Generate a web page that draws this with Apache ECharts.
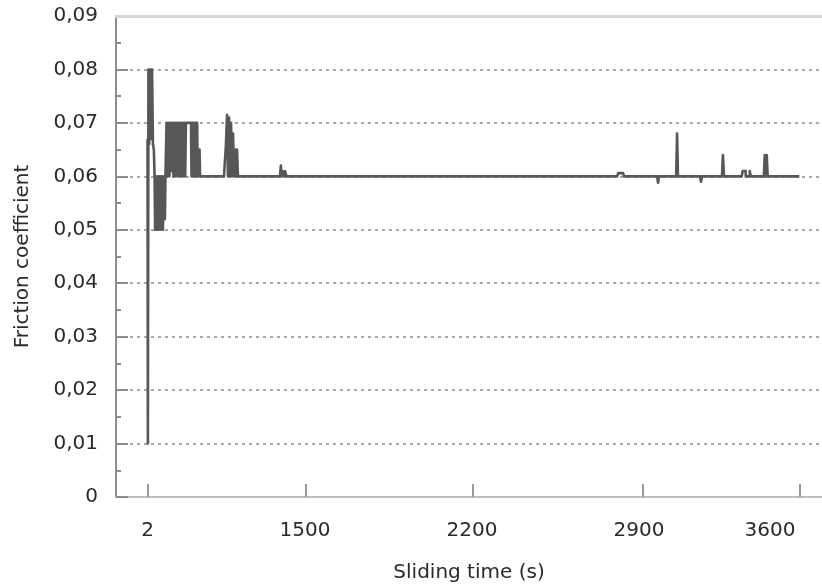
<!DOCTYPE html>
<html>
<head>
<meta charset="utf-8">
<script src="https://cdn.jsdelivr.net/npm/echarts@6/dist/echarts.min.js"></script>
<style>html,body{margin:0;padding:0;background:#fff;}#c{width:822px;height:588px;}</style>
</head>
<body>
<div id="c"></div>
<script>
// Sliding time (s) of each sample
const timeS = [2,4,7,11,16,21,27,32,37,41,44,49,54,60,65,71,76,82,87,93,98,101,
  104,107,112,118,123,129,134,140,145,151,157,162,168,173,179,184,190,195,201,206,210,214,228,242,
  245,248,251,254,257,259,262,265,268,270,273,276,279,281,286,289,292,
  424,435,441,446,452,457,463,468,474,479,485,490,496,501,
  733,738,743,747,755,761,769,
  2594,2600,2627,2632,2815,2820,2825,2920,2925,2930,3052,3057,3063,
  3173,3178,3184,3282,3287,3298,3304,3326,3332,3404,3409,3414,3420,3425,3600];
// Friction coefficient
const friction = [0.067,0.010,0.080,0.066,0.080,0.067,0.080,0.066,0.065,0.060,0.050,0.060,0.050,0.060,0.050,0.060,0.050,0.060,0.050,0.060,0.052,0.060,
  0.060,0.070,0.060,0.070,0.060,0.070,0.061,0.070,0.060,0.070,0.060,0.070,0.060,0.070,0.060,0.070,0.060,0.070,0.060,0.070,0.060,0.070,0.070,0.070,
  0.060,0.070,0.060,0.070,0.060,0.070,0.060,0.070,0.060,0.070,0.060,0.070,0.060,0.065,0.060,0.065,0.060,
  0.060,0.066,0.0715,0.060,0.071,0.060,0.070,0.060,0.068,0.060,0.065,0.060,0.065,0.060,
  0.060,0.062,0.060,0.061,0.060,0.061,0.060,
  0.060,0.0606,0.0606,0.060,0.060,0.0588,0.060,0.060,0.068,0.060,0.060,0.059,0.060,
  0.060,0.064,0.060,0.060,0.061,0.061,0.060,0.061,0.060,0.060,0.064,0.060,0.064,0.060,0.060];
// X-axis tick marks and labels
const xTickPos = [2, 877, 1799, 2737, 3600];
const xLabelPos = [2, 871, 1793, 2715, 3438];
const xLabelText = ['2', '1500', '2200', '2900', '3600'];

const chart = echarts.init(document.getElementById('c'), null, {renderer: 'canvas'});
const font = 'DejaVu Sans';
const txt = '#2a2a2a';
chart.setOption({
  animation: false,
  backgroundColor: '#ffffff',
  grid: {left: 116, right: 0, top: 16, bottom: 91},
  xAxis: [{
    type: 'value', min: -172, max: 3725,
    name: 'Sliding time (s)', nameLocation: 'middle', nameGap: 66,
    nameTextStyle: {fontFamily: font, fontSize: 20, color: txt},
    axisLine: {show: true, onZero: false, lineStyle: {color: '#bdbdbd', width: 2}},
    axisTick: {show: true, inside: true, length: 13, customValues: xTickPos, lineStyle: {color: '#9a9a9a', width: 2}},
    axisLabel: {customValues: xLabelPos, margin: 24, fontFamily: font, fontSize: 20, color: txt,
      formatter: v => { const i = xLabelPos.indexOf(v); return i >= 0 ? xLabelText[i] : ''; }},
    splitLine: {show: false}
  }, {
    type: 'value', position: 'top', min: -172, max: 3725, z: 5,
    axisLine: {show: true, onZero: false, lineStyle: {color: '#d6d6d6', width: 3}},
    axisTick: {show: false}, axisLabel: {show: false}, splitLine: {show: false}
  }],
  yAxis: {
    type: 'value', min: 0, max: 0.09, interval: 0.01,
    name: 'Friction coefficient', nameLocation: 'middle', nameGap: 83, nameRotate: 90,
    nameTextStyle: {fontFamily: font, fontSize: 20, color: txt},
    axisLine: {show: true, onZero: false, lineStyle: {color: '#8c8c8c', width: 2}},
    axisTick: {show: true, inside: true, length: 12, lineStyle: {color: '#8c8c8c', width: 2}},
    minorTick: {show: true, splitNumber: 2, length: 5, lineStyle: {color: '#8c8c8c', width: 2}},
    axisLabel: {margin: 18, fontFamily: font, fontSize: 20, color: txt,
      formatter: v => v === 0 ? '0' : v.toFixed(2).replace('.', ',')},
    splitLine: {show: true, showMinLine: false, showMaxLine: false,
      lineStyle: {color: '#a8a8a8', width: 2, type: [3, 4]}}
  },
  series: [{
    type: 'line', xAxisIndex: 0, step: 'end',
    data: timeS.map((t, i) => [t, friction[i]]),
    showSymbol: false, symbol: 'none',
    lineStyle: {color: '#575757', width: 2.6, join: 'round', cap: 'butt'},
    z: 3
  }]
});
</script>
</body>
</html>
